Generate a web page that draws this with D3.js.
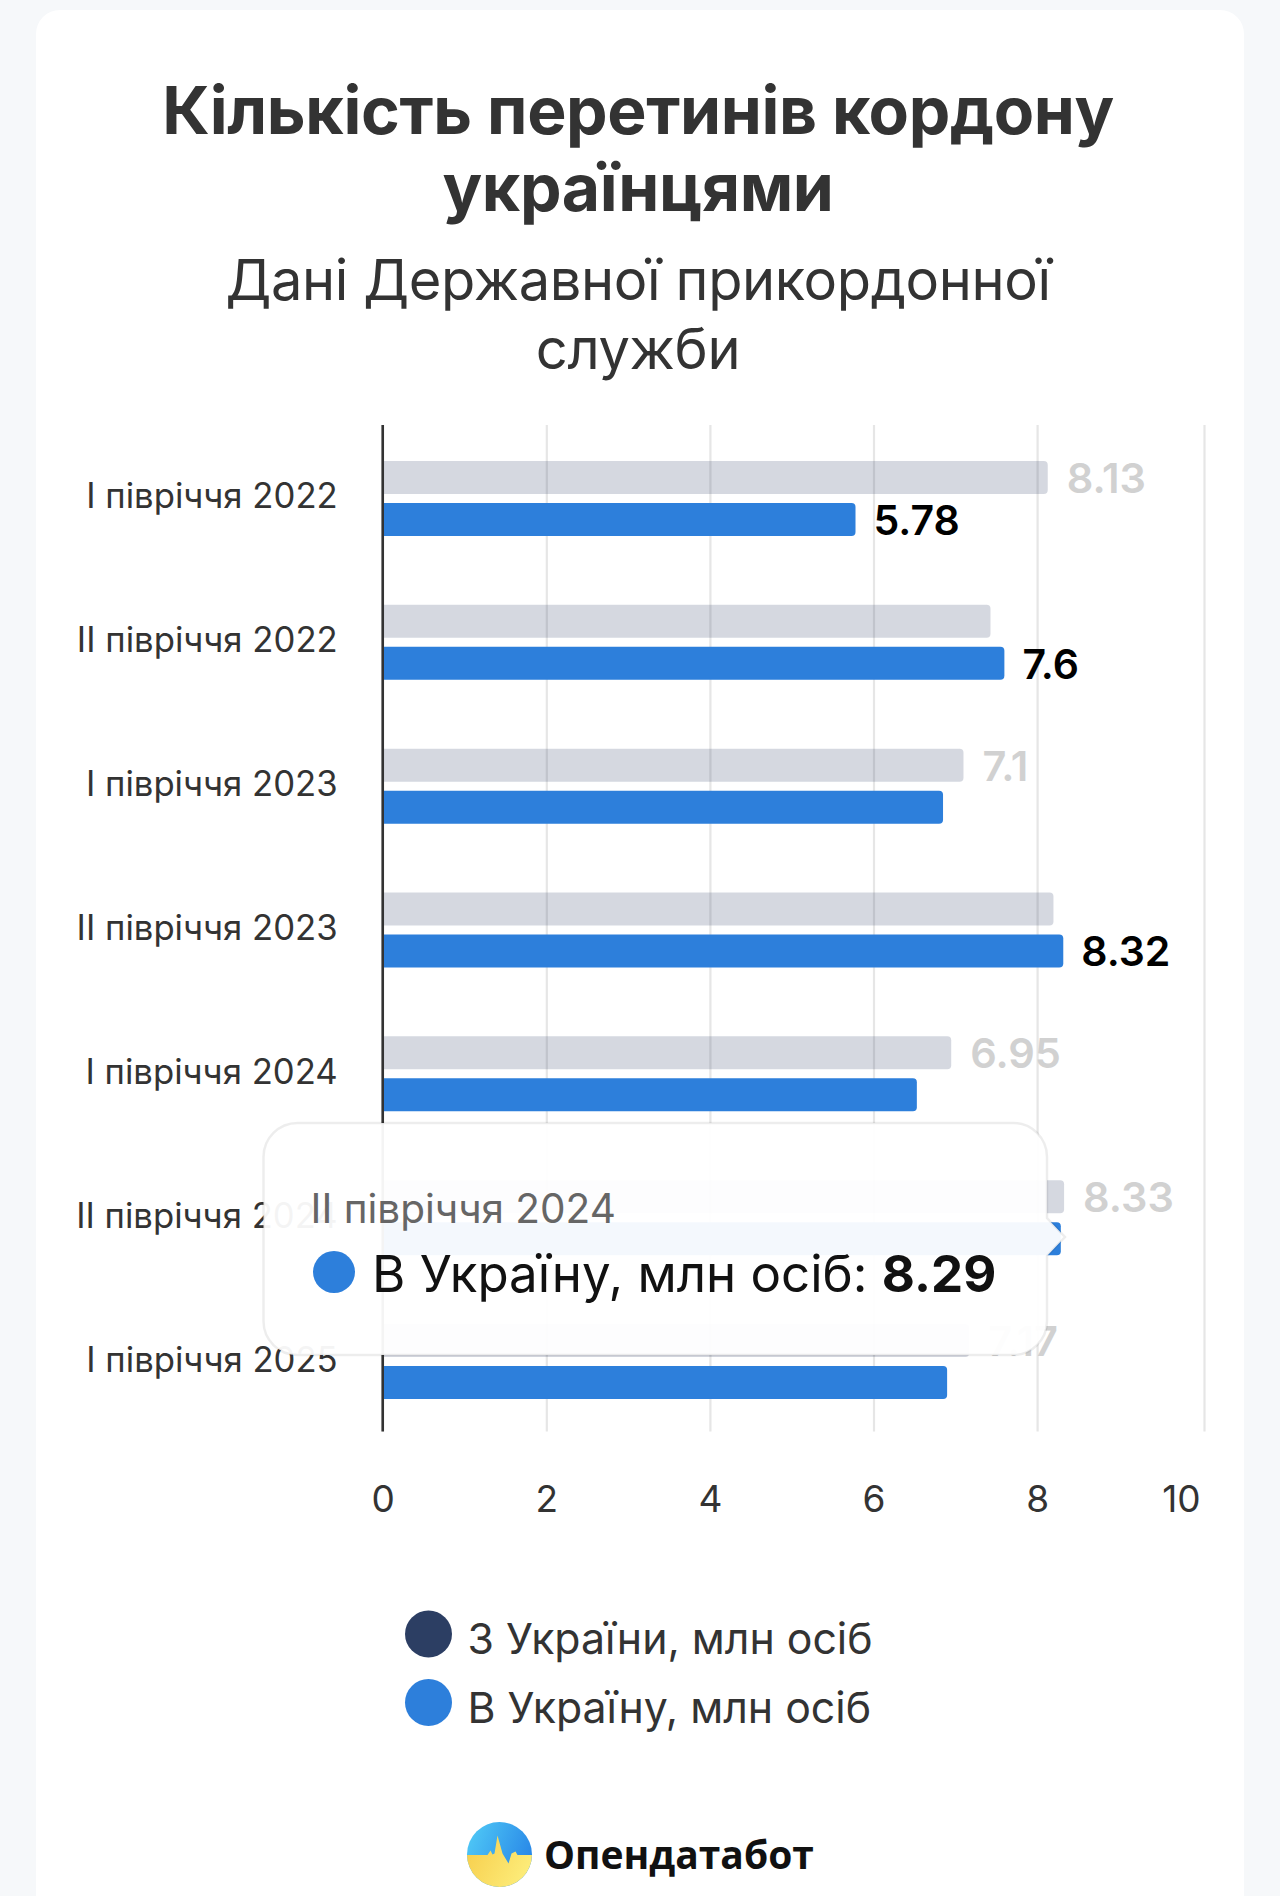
<!DOCTYPE html>
<html>
<head>
<meta charset="utf-8">
<script src="https://cdn.jsdelivr.net/npm/d3@7"></script>
<style>
  html, body { margin: 0; background: #f6f8fa; }
  text { font-family: Inter, "Noto Sans", sans-serif; }
</style>
</head>
<body>
<div id="chart"></div>
<script>
var categories = ["І півріччя 2022", "ІІ півріччя 2022", "І півріччя 2023", "ІІ півріччя 2023", "І півріччя 2024", "ІІ півріччя 2024", "І півріччя 2025"];
var seriesNames = ["З України, млн осіб", "В Україну, млн осіб"];
var outValues = [8.13, 7.43, 7.1, 8.2, 6.95, 8.33, 7.17];
var inValues = [5.78, 7.6, 6.85, 8.32, 6.53, 8.29, 6.9];
// which bars carry a printed value in the picture
var outLabelled = [1, 0, 1, 0, 1, 1, 1];
var inLabelled = [1, 1, 0, 1, 0, 0, 0];
var xTicks = [0, 2, 4, 6, 8, 10];
var titleLines = ["Кількість перетинів кордону", "українцями"];
var subtitleLines = ["Дані Державної прикордонної", "служби"];
var tooltipTitle = "ІІ півріччя 2024";
var tooltipLabel = "В Україну, млн осіб: ";
var tooltipValue = "8.29";

var navy = "#2c3e63", blue = "#2d7fdb";
var width = 1280, height = 1896;
var plotTop = 425, plotBottom = 1431.5;

var svg = d3.select("#chart").append("svg")
  .attr("width", width)
  .attr("height", height)
  .style("display", "block");

// card
svg.append("rect")
  .attr("x", 36).attr("y", 10)
  .attr("width", 1208).attr("height", 1920)
  .attr("rx", 24)
  .attr("fill", "#fff");

// titles
svg.append("g").selectAll("text")
  .data(titleLines)
  .enter().append("text")
  .attr("x", 638)
  .attr("y", function(d, i) { return 133.5 + i * 77.5; })
  .attr("text-anchor", "middle")
  .attr("font-size", 66)
  .attr("font-weight", 700)
  .attr("letter-spacing", -0.37)
  .attr("fill", "#333")
  .text(function(d) { return d; });

svg.append("g").selectAll("text")
  .data(subtitleLines)
  .enter().append("text")
  .attr("x", 638)
  .attr("y", function(d, i) { return 300 + i * 69; })
  .attr("text-anchor", "middle")
  .attr("font-size", 56)
  .attr("font-weight", 400)
  .attr("letter-spacing", -0.37)
  .attr("fill", "#333")
  .text(function(d) { return d; });

// scales
var x = d3.scaleLinear().domain([0, 10]).range([382.7, 1200.7]);
var y = d3.scaleBand().domain(categories).range([426.5, 1433.5]);
var yInner = d3.scaleBand().domain([0, 1]).range([0, y.bandwidth()])
  .paddingInner(0.214).paddingOuter(0.82);

// x axis + grid
var xAxis = svg.append("g")
  .attr("transform", "translate(0," + plotBottom + ")")
  .call(d3.axisBottom(x).tickValues(xTicks).tickSizeInner(-(plotBottom - plotTop)).tickPadding(0));
xAxis.select(".domain").remove();
xAxis.selectAll("line").attr("stroke", "#e6e6e6").attr("stroke-width", 2.2);
xAxis.selectAll("text")
  .attr("y", 0).attr("dy", 80.5)
  .attr("font-size", 37)
  .attr("font-family", "Inter")
  .attr("fill", "#333");
xAxis.selectAll(".tick").filter(function(d) { return d === 10; }).select("line").attr("x1", 3.3).attr("x2", 3.3);
xAxis.selectAll(".tick").filter(function(d) { return d === 10; }).select("text").attr("dx", -19.7);

// bars
function hbar(x0, x1, y0, h, r) {
  var p = d3.path();
  p.moveTo(x0, y0);
  p.lineTo(x1 - r, y0);
  p.arcTo(x1, y0, x1, y0 + r, r);
  p.lineTo(x1, y0 + h - r);
  p.arcTo(x1, y0 + h, x1 - r, y0 + h, r);
  p.lineTo(x0, y0 + h);
  p.closePath();
  return p.toString();
}

var rows = categories.map(function(c, i) {
  return {cat: c, out: outValues[i], inn: inValues[i], outLab: outLabelled[i], inLab: inLabelled[i]};
});

svg.append("g").selectAll("path")
  .data(rows)
  .enter().append("path")
  .attr("fill", navy)
  .attr("fill-opacity", 0.2)
  .attr("d", function(d) { return hbar(x(0), x(d.out), y(d.cat) + yInner(0), yInner.bandwidth(), 4); });

svg.append("g").selectAll("path")
  .data(rows)
  .enter().append("path")
  .attr("fill", blue)
  .attr("d", function(d) { return hbar(x(0), x(d.inn), y(d.cat) + yInner(1), yInner.bandwidth(), 4); });

// value labels
svg.append("g").selectAll("text")
  .data(rows.filter(function(d) { return d.outLab; }))
  .enter().append("text")
  .attr("x", function(d) { return x(d.out) + 19; })
  .attr("y", function(d) { return y(d.cat) + yInner(0) + 32; })
  .attr("font-size", 41.5)
  .attr("font-weight", 600)
  .attr("fill", "#d1d1d1")
  .text(function(d) { return d.out; });

svg.append("g").selectAll("text")
  .data(rows.filter(function(d) { return d.inLab; }))
  .enter().append("text")
  .attr("x", function(d) { return x(d.inn) + 18; })
  .attr("y", function(d) { return y(d.cat) + yInner(1) + 32; })
  .attr("font-size", 41)
  .attr("font-weight", 600)
  .attr("fill", "#000")
  .text(function(d) { return d.inn; });

// y axis
var yAxis = svg.append("g")
  .attr("transform", "translate(" + x(0) + ",0)")
  .call(d3.axisLeft(y).tickSize(0).tickPadding(45));
yAxis.select(".domain").remove();
yAxis.selectAll("text")
  .attr("font-size", 34.7)
  .attr("font-family", "Inter")
  .attr("fill", "#333")
  .attr("dy", 10);
yAxis.append("line")
  .attr("y1", plotTop).attr("y2", plotBottom)
  .attr("stroke", "#333").attr("stroke-width", 2.6);

// legend
var legend = svg.append("g").selectAll("g")
  .data(seriesNames)
  .enter().append("g")
  .attr("transform", function(d, i) { return "translate(0," + (1634 + i * 68.5) + ")"; });
legend.append("circle")
  .attr("cx", 428.5).attr("r", 23.5)
  .attr("fill", function(d, i) { return i ? blue : navy; });
legend.append("text")
  .attr("x", 467.5)
  .attr("y", 20)
  .attr("font-size", 42.8)
  .attr("fill", "#333")
  .text(function(d) { return d; });

// tooltip
var tip = d3.path(), tl = 263.5, tr = 1047, tt = 1123, tb = 1355, tr0 = 34;
tip.moveTo(tl + tr0, tt);
tip.lineTo(tr - tr0, tt);
tip.arcTo(tr, tt, tr, tt + tr0, tr0);
tip.lineTo(tr, 1218);
tip.lineTo(1065, 1237);
tip.lineTo(tr, 1256);
tip.lineTo(tr, tb - tr0);
tip.arcTo(tr, tb, tr - tr0, tb, tr0);
tip.lineTo(tl + tr0, tb);
tip.arcTo(tl, tb, tl, tb - tr0, tr0);
tip.lineTo(tl, tt + tr0);
tip.arcTo(tl, tt, tl + tr0, tt, tr0);
tip.closePath();

var tooltip = svg.append("g");
tooltip.append("path")
  .attr("d", tip.toString())
  .attr("fill", "#fff")
  .attr("fill-opacity", 0.95)
  .attr("stroke", "#000")
  .attr("stroke-opacity", 0.07)
  .attr("stroke-width", 2.5);
tooltip.append("text")
  .attr("x", 310.5).attr("y", 1223)
  .attr("font-size", 40.5)
  .attr("fill", "#666")
  .text(tooltipTitle);
tooltip.append("circle")
  .attr("cx", 334).attr("cy", 1272).attr("r", 21)
  .attr("fill", blue);
var tipText = tooltip.append("text")
  .attr("x", 372).attr("y", 1291.5)
  .attr("font-size", 51)
  .attr("fill", "#111");
tipText.append("tspan").text(tooltipLabel);
tipText.append("tspan").attr("font-weight", 700).text(tooltipValue);

// logo
var defs = svg.append("defs");
var gBlue = defs.append("linearGradient").attr("id", "logoBlue")
  .attr("x1", 0).attr("y1", 0).attr("x2", 1).attr("y2", 0.4);
gBlue.append("stop").attr("offset", "0%").attr("stop-color", "#52cdf7");
gBlue.append("stop").attr("offset", "100%").attr("stop-color", "#2a8ae8");
var gYellow = defs.append("linearGradient").attr("id", "logoYellow")
  .attr("x1", 0).attr("y1", 0).attr("x2", 1).attr("y2", 0.4);
gYellow.append("stop").attr("offset", "0%").attr("stop-color", "#f6c945");
gYellow.append("stop").attr("offset", "100%").attr("stop-color", "#fdee7c");
defs.append("clipPath").attr("id", "logoClip")
  .append("circle").attr("r", 32.5);

var logo = svg.append("g").attr("transform", "translate(499.5,1854.5)");
logo.append("circle").attr("r", 32.5).attr("fill", "url(#logoBlue)");
var pulse = [[-40, 0.5], [-12, 0.5], [-9, -4], [-7, 0], [-5, -1], [-2, -19], [3, -1], [9, 9], [12, -1], [16, -3], [18, 0.5], [40, 0.5], [40, 40], [-40, 40]];
logo.append("path")
  .attr("clip-path", "url(#logoClip)")
  .attr("fill", "url(#logoYellow)")
  .attr("d", d3.line()(pulse) + "Z");

svg.append("text")
  .attr("x", 544).attr("y", 1869)
  .style("font-family", "'Open Sans'")
  .attr("font-size", 39)
  .attr("font-weight", 700)
  .attr("fill", "#111")
  .text("Опендатабот");
</script>
</body>
</html>
